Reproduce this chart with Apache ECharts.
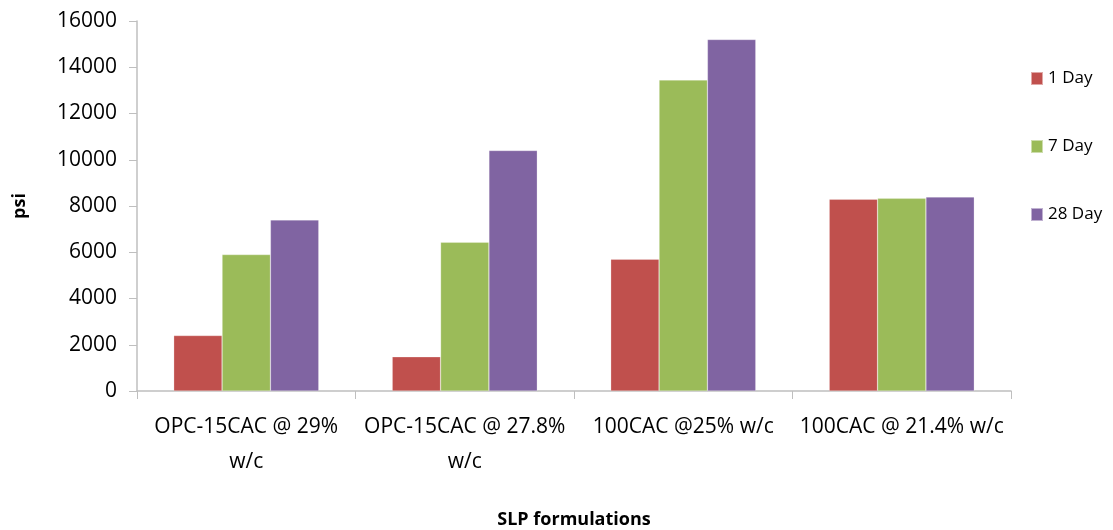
<!DOCTYPE html>
<html><head><meta charset="utf-8">
<script src="https://cdn.jsdelivr.net/npm/echarts@6/dist/echarts.min.js"></script>
<style>html,body{margin:0;padding:0;background:#fff}#c{width:1113px;height:530px}</style>
</head><body><div id="c"></div>
<script>
const categories = ['OPC-15CAC @ 29% w/c', 'OPC-15CAC @ 27.8% w/c', '100CAC @25% w/c', '100CAC @ 21.4% w/c'];
const tickLabels = ['OPC-15CAC @ 29%\nw/c', 'OPC-15CAC @ 27.8%\nw/c', '100CAC @25% w/c', '100CAC @ 21.4% w/c'];
const seriesNames = ['1 Day', '7 Day', '28 Day'];
const day1 = [2400, 1480, 5700, 8290];
const day7 = [5900, 6430, 13450, 8330];
const day28 = [7400, 10400, 15200, 8390];
const colors = ['#C0504D', '#9BBB59', '#8064A2'];
const font = '"Open Sans", "Liberation Sans", sans-serif';

const chart = echarts.init(document.getElementById('c'), null, {renderer: 'canvas'});
const values = [day1, day7, day28];
chart.setOption({
  animation: false,
  textStyle: {fontFamily: font},
  grid: {left: 137, right: 102, top: 21, bottom: 139, containLabel: false, outerBoundsMode: 'none'},
  legend: {
    orient: 'vertical', left: 1030, top: 70, padding: 0, itemWidth: 12, itemHeight: 13, itemGap: 51,
    icon: 'rect', data: seriesNames,
    textStyle: {fontFamily: font, fontSize: 17, color: '#000'}
  },
  xAxis: {
    type: 'category', data: categories,
    name: 'SLP formulations', nameLocation: 'middle', nameGap: 120,
    nameTextStyle: {fontFamily: font, fontWeight: 'bold', fontSize: 18, color: '#000'},
    axisLine: {lineStyle: {color: '#BFBFBF', width: 1.5}},
    axisTick: {show: true, length: 8, lineStyle: {color: '#BFBFBF'}},
    axisLabel: {
      formatter: (v, i) => tickLabels[i], color: '#000', fontSize: 21, lineHeight: 35, margin: 19,
      fontFamily: font, interval: 0
    }
  },
  yAxis: {
    type: 'value', min: 0, max: 16000, interval: 2000,
    name: 'psi', nameLocation: 'middle', nameGap: 108, nameRotate: 90,
    nameTextStyle: {fontFamily: font, fontWeight: 'bold', fontSize: 18, color: '#000'},
    axisLine: {show: true, lineStyle: {color: '#BFBFBF', width: 1.5}},
    axisTick: {show: true, length: 8, lineStyle: {color: '#BFBFBF'}},
    splitLine: {show: false},
    axisLabel: {color: '#000', fontSize: 21, margin: 20, fontFamily: font, formatter: v => String(v)}
  },
  series: seriesNames.map((n, i) => ({
    name: n, type: 'bar', data: values[i],
    barGap: '0%', barCategoryGap: '33.6%',
    itemStyle: {color: colors[i], borderColor: 'rgba(255,255,255,0.5)', borderWidth: 0.5}
  }))
});
</script></body></html>
